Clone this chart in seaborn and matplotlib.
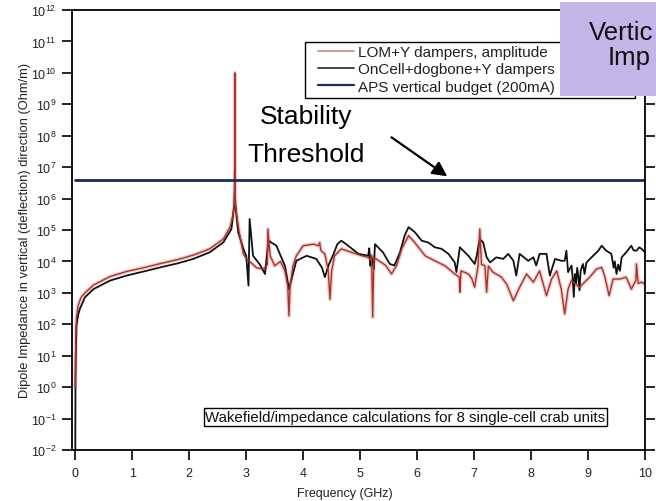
import numpy as np
import pandas as pd
import matplotlib
matplotlib.use("Agg")
import matplotlib.pyplot as plt
import seaborn as sns
from matplotlib.patches import Rectangle
from matplotlib.lines import Line2D
from matplotlib.ticker import LogLocator, NullLocator

# ---------------- data ----------------
lom_freq = [0.0, 0.005, 0.01, 0.02, 0.05, 0.1, 0.17, 0.32, 0.61, 0.9, 1.2, 1.49, 1.8, 2.07,
            2.36, 2.6, 2.72, 2.77, 2.79, 2.798, 2.80, 2.802, 2.81, 2.83, 2.88, 2.95, 3.0,
            3.06, 3.12, 3.18, 3.3, 3.37, 3.38, 3.42, 3.5, 3.6, 3.68, 3.73, 3.75, 3.77, 3.82,
            3.88, 4.0, 4.18, 4.27, 4.29, 4.31, 4.38, 4.44, 4.47, 4.5, 4.55, 4.67, 4.85, 5.03,
            5.14, 5.18, 5.2, 5.22, 5.24, 5.37, 5.45, 5.55, 5.64, 5.73, 5.85, 5.96, 6.14, 6.31,
            6.49, 6.66, 6.74, 6.75, 6.77, 6.9, 6.96, 7.01, 7.07, 7.10, 7.13, 7.19, 7.22, 7.25,
            7.33, 7.48, 7.57, 7.69, 7.8, 7.92, 8.04, 8.15, 8.27, 8.36, 8.45, 8.53, 8.59, 8.65,
            8.71, 8.77, 8.85, 8.94, 9.03, 9.15, 9.24, 9.29, 9.37, 9.44, 9.56, 9.67, 9.76, 9.84,
            9.85, 9.88, 9.94, 10.0]
lom_log10 = [0.0, 1.0, 1.6, 2.2, 2.6, 2.85, 3.0, 3.25, 3.52, 3.68, 3.8, 3.93, 4.06, 4.2,
             4.4, 4.72, 5.1, 5.5, 5.83, 6.5, 10.0, 6.5, 5.83, 5.5, 4.9, 4.24, 4.1,
             4.0, 3.9, 3.8, 3.75, 3.9, 5.03, 4.18, 3.86, 4.0, 3.7, 3.2, 2.27, 3.2, 3.85,
             4.18, 4.5, 4.55, 4.5, 4.6, 4.35, 4.24, 3.7, 2.8, 3.7, 4.18, 4.4, 4.29, 4.18,
             4.13, 4.05, 4.2, 2.23, 4.13, 3.97, 3.87, 3.6, 3.87, 4.4, 4.82, 4.6, 4.18, 4.02,
             3.86, 3.6, 3.5, 3.02, 3.7, 3.6, 3.45, 3.18, 3.87, 5.03, 3.9, 3.87, 3.02, 3.85,
             3.66, 3.5, 3.28, 2.75, 3.18, 3.6, 3.34, 3.7, 2.91, 3.44, 3.7, 3.12, 2.33, 3.12,
             3.4, 3.3, 3.18, 3.34, 3.5, 3.76, 3.81, 3.55, 2.91, 3.44, 3.44, 3.5, 3.12, 3.4,
             3.92, 3.3, 3.34, 3.28]

oncell_freq = [0.0, 0.003, 0.008, 0.02, 0.05, 0.08, 0.17, 0.32, 0.61, 0.9, 1.2, 1.49, 1.8,
               2.07, 2.36, 2.6, 2.74, 2.79, 2.799, 2.80, 2.801, 2.81, 2.86, 2.95, 3.0, 3.04,
               3.06, 3.12, 3.24, 3.33, 3.39, 3.53, 3.59, 3.68, 3.75, 3.88, 4.06, 4.23, 4.33,
               4.38, 4.45, 4.52, 4.6, 4.67, 4.79, 4.97, 5.14, 5.16, 5.18, 5.2, 5.24, 5.26, 5.40,
               5.52, 5.6, 5.70, 5.78, 5.85, 5.96, 6.08, 6.2, 6.31, 6.43, 6.55, 6.66, 6.69, 6.75,
               6.9, 7.01, 7.04, 7.10, 7.16, 7.22, 7.28, 7.39, 7.51, 7.6, 7.69, 7.74, 7.8, 7.95,
               8.04, 8.09, 8.15, 8.27, 8.33, 8.42, 8.53, 8.59, 8.62, 8.65, 8.71, 8.73, 8.75,
               8.77, 8.79, 8.81, 8.83, 8.85, 8.87, 8.91, 8.94, 8.97, 9.0, 9.09, 9.18, 9.24, 9.32,
               9.41, 9.45, 9.47, 9.5, 9.53, 9.56, 9.59, 9.67, 9.76, 9.8, 9.85, 9.9, 9.94, 10.0]
oncell_log10 = [-2.0, 0.2, 1.0, 1.96, 2.3, 2.49, 2.86, 3.12, 3.39, 3.55, 3.68, 3.81, 3.94,
                4.08, 4.29, 4.61, 5.03, 5.8, 6.3, 6.88, 6.3, 5.8, 4.93, 4.4, 4.18, 3.23,
                5.35, 4.18, 3.9, 3.6, 4.66, 4.5, 4.24, 3.86, 3.12, 4.02, 4.18, 4.08, 3.8,
                3.5, 3.9, 4.18, 4.55, 4.66, 4.5, 4.24, 4.18, 4.42, 3.86, 4.15, 3.76, 4.55, 4.29,
                3.92, 3.87, 4.29, 4.82, 5.09, 4.93, 4.66, 4.6, 4.45, 4.4, 4.24, 3.97, 3.66, 4.45,
                4.18, 3.92, 4.13, 4.71, 4.6, 4.13, 3.97, 4.13, 4.08, 4.24, 4.02, 3.55, 4.24, 4.02,
                4.13, 3.87, 4.24, 4.24, 3.55, 4.08, 4.02, 4.02, 4.34, 3.66, 3.87, 3.5, 2.87,
                3.6, 3.3, 3.8, 3.5, 3.08, 3.7, 3.92, 3.6, 3.95, 4.02, 4.18, 4.34, 4.5, 4.34,
                4.24, 3.8, 4.0, 3.6, 3.9, 3.7, 4.13, 4.29, 4.5, 4.35, 4.34, 4.45, 4.4, 4.29]

budget_freq = [0.0, 10.0]
budget_value = [4.0e6, 4.0e6]

x_ticks = [0, 1, 2, 3, 4, 5, 6, 7, 8, 9, 10]
series_labels = ["LOM+Y dampers, amplitude",
                 "OnCell+dogbone+Y dampers",
                 "APS vertical budget (200mA)"]
series_colors = ["#a8342e", "#111111", "#1c2a5c"]
legend_colors = ["#d9857f", "#222222", "#1c2a5c"]

# ---------------- style ----------------
sns.set_theme(style="ticks")
plt.rcParams['font.family'] = ['Liberation Sans', 'DejaVu Sans']
plt.rcParams['mathtext.fontset'] = 'custom'
plt.rcParams['mathtext.rm'] = 'Liberation Sans'
plt.rcParams['mathtext.it'] = 'Liberation Sans:italic'
plt.rcParams['mathtext.bf'] = 'Liberation Sans:bold'

W, H = 656, 502
fig = plt.figure(figsize=(W / 100, H / 100), dpi=100)
ax = fig.add_axes([72 / W, 1 - 451 / H, (645 - 72) / W, (451 - 11) / H])

lom = pd.DataFrame({"freq": lom_freq, "Z": 10.0 ** np.array(lom_log10)})
onc = pd.DataFrame({"freq": oncell_freq, "Z": 10.0 ** np.array(oncell_log10)})
bud = pd.DataFrame({"freq": budget_freq, "Z": budget_value})

ax.set_yscale("log")
# faint halo under red trace
sns.lineplot(data=lom, x="freq", y="Z", ax=ax, color="#f2c0bc", lw=2.8,
             estimator=None, sort=False, legend=False, alpha=0.8)
sns.lineplot(data=onc, x="freq", y="Z", ax=ax, color=series_colors[1], lw=1.3,
             estimator=None, sort=False, legend=False)
sns.lineplot(data=lom, x="freq", y="Z", ax=ax, color=series_colors[0], lw=1.0,
             estimator=None, sort=False, legend=False)
sns.lineplot(data=bud, x="freq", y="Z", ax=ax, color=series_colors[2], lw=2.0,
             estimator=None, sort=False, legend=False)

ax.set_xlim(-0.058, 10)
ax.set_ylim(1e-2, 1e12)
ax.set_xticks(x_ticks)
ax.yaxis.set_major_locator(LogLocator(base=10, numticks=30))
ax.yaxis.set_minor_locator(NullLocator())
ax.xaxis.set_minor_locator(NullLocator())
ax.grid(False)

for s in ax.spines.values():
    s.set_visible(True)
    s.set_color("black")
    s.set_linewidth(1.3)

ax.tick_params(axis="y", which="major", left=True, right=True, direction="out",
               length=7, width=1.2, color="black", labelsize=9, pad=4,
               labelcolor="#222222")
ax.tick_params(axis="x", which="major", bottom=True, top=False, direction="out",
               length=7, width=1.2, color="black", labelsize=9, pad=5,
               labelcolor="#222222")

ax.set_xlabel("Frequency (GHz)", fontsize=9, color="#222222")
ax.xaxis.set_label_coords(0.476, -0.085)
ax.set_ylabel("Dipole Impedance in vertical (deflection) direction (Ohm/m)",
              fontsize=9.3, color="#222222")
ax.yaxis.set_label_coords(-0.0716, 0.502)

# legend: frame drawn separately so paddings match the reference
frame = Rectangle((305 / W, 1 - 99 / H), 330 / W, 56 / H, transform=fig.transFigure,
                  facecolor="white", edgecolor="black", lw=1.0, zorder=4.5,
                  clip_on=False)
ax.add_patch(frame)
handles = [Line2D([], [], color=c, lw=1.2 if i < 2 else 1.6)
           for i, c in enumerate(legend_colors)]
leg = ax.legend(handles, series_labels, loc="upper left",
                bbox_to_anchor=(318 / W, 1 - 46 / H), bbox_transform=fig.transFigure,
                fontsize=11, frameon=False, borderpad=0, labelspacing=0.22,
                handlelength=2.35, handletextpad=0.28, borderaxespad=0)
for t in leg.get_texts():
    t.set_color("#222222")
leg.set_zorder(5)

# annotation arrow and label
ax.annotate("", xy=(6.53, 5.1e6), xytext=(5.55, 8.9e7),
            arrowprops=dict(arrowstyle="-|>", color="black", lw=1.6,
                            mutation_scale=22, shrinkA=0, shrinkB=0))
fig.text(306 / W, 1 - 136 / H, "Stability\nThreshold", ha="center", va="center",
         fontsize=19, linespacing=1.7, color="black")

fig.text(405.5 / W, 1 - 418 / H,
         "Wakefield/impedance calculations for 8 single-cell crab units",
         ha="center", va="center", fontsize=10.8, color="#111111",
         bbox=dict(boxstyle="square,pad=0.12", fc="white", ec="black", lw=1.0))

# purple title box (cut at the figure edge in the reference)
fig.patches.append(Rectangle((560 / W, 1 - 97 / H), 96 / W, 94 / H,
                             transform=fig.transFigure, facecolor="#c3b5e8",
                             edgecolor="none", zorder=10))
fig.text(589 / W, 1 - 40 / H, "Vertic", ha="left", va="baseline",
         fontsize=18.5, color="#111111", zorder=11)
fig.text(608 / W, 1 - 65 / H, "Imp", ha="left", va="baseline",
         fontsize=18.5, color="#111111", zorder=11)

fig.savefig("out.png", dpi=100)
